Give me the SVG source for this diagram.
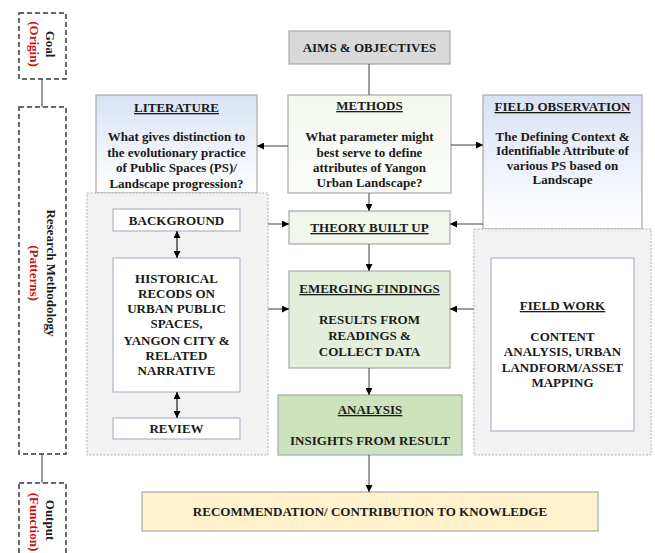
<svg xmlns="http://www.w3.org/2000/svg" width="655" height="553" viewBox="0 0 655 553">
<style>
text{font-family:"Liberation Serif","Times New Roman",serif;font-weight:bold;font-size:13px;fill:#1a1a1a;text-anchor:middle}
.u{text-decoration:underline}
.red{fill:#cc1111}
.side{fill:none;stroke:#3a3a3a;stroke-width:1.5;stroke-dasharray:5,3}
.panel{fill:#f2f2f2;stroke:#b0b0b0;stroke-width:1;stroke-dasharray:2,1.5}
.box{stroke:#a9a9a9;stroke-width:1.2}
.wbox{fill:#fff;stroke:#a0a8c0;stroke-width:1}
.ln{fill:none;stroke:#404040;stroke-width:1}
.arr{fill:none;stroke:#404040;stroke-width:1;marker-end:url(#ah)}
.dbl{fill:none;stroke:#202020;stroke-width:1.2;marker-end:url(#ah);marker-start:url(#ah)}
</style>
<defs>
<marker id="ah" viewBox="0 0 8 8" refX="8" refY="4" markerWidth="7" markerHeight="7" markerUnits="userSpaceOnUse" orient="auto-start-reverse">
<path d="M0,0 L8,4 L0,8 z" fill="#000"/>
</marker>
<linearGradient id="blue" x1="0" y1="0" x2="0" y2="1">
<stop offset="0" stop-color="#d9e2f5"/>
<stop offset="1" stop-color="#ffffff"/>
</linearGradient>
<linearGradient id="grn" x1="0" y1="0" x2="0" y2="1">
<stop offset="0" stop-color="#f3f8ef"/>
<stop offset="1" stop-color="#fbfdf9"/>
</linearGradient>
</defs>
<rect width="655" height="553" fill="#fff"/>

<g id="side-labels">
<g id="goal">
<rect class="side" x="19" y="13" width="47" height="66"/>
<text transform="translate(46,44) rotate(90)">Goal</text>
<text class="red" transform="translate(29.5,44) rotate(90)">(Origin)</text>
</g>
<g id="research">
<rect class="side" x="19" y="107" width="47" height="347"/>
<text transform="translate(46.5,273) rotate(90)">Research Methodology</text>
<text class="red" transform="translate(29.5,273) rotate(90)">(Patterns)</text>
</g>
<g id="output">
<rect class="side" x="19" y="483" width="47" height="80"/>
<text transform="translate(46,520) rotate(90)">Output</text>
<text class="red" transform="translate(29.5,522) rotate(90)">(Function)</text>
</g>
</g>

<g id="literature">
<rect class="box" x="96" y="95" width="161" height="98" fill="url(#blue)"/>
<text class="u" x="176.5" y="112">LITERATURE</text>
<text x="176.5" y="141">What gives distinction to</text>
<text x="176.5" y="157">the evolutionary practice</text>
<text x="176.5" y="172">of Public Spaces (PS)/</text>
<text x="176.5" y="188">Landscape progression?</text>
</g>

<g id="field-observation">
<rect class="box" x="483" y="95" width="159" height="134" fill="url(#blue)"/>
<text class="u" x="562.5" y="111">FIELD OBSERVATION</text>
<text x="562.5" y="141">The Defining Context &amp;</text>
<text x="562.5" y="155">Identifiable Attribute of</text>
<text x="562.5" y="170">various PS based on</text>
<text x="562.5" y="184">Landscape</text>
</g>

<g id="left-panel">
<rect class="panel" x="87" y="193" width="181" height="262"/>
</g>
<g id="background">
<rect class="wbox" x="113" y="209" width="127" height="22"/>
<text x="176.5" y="225">BACKGROUND</text>
</g>
<g id="historical">
<rect class="wbox" x="113" y="258" width="127" height="134"/>
<text x="176.5" y="283">HISTORICAL</text>
<text x="176.5" y="298">RECODS ON</text>
<text x="176.5" y="313">URBAN PUBLIC</text>
<text x="176.5" y="328">SPACES,</text>
<text x="176.5" y="345">YANGON CITY &amp;</text>
<text x="176.5" y="360">RELATED</text>
<text x="176.5" y="375">NARRATIVE</text>
</g>
<g id="review">
<rect class="wbox" x="113" y="418" width="127" height="21"/>
<text x="176.5" y="433">REVIEW</text>
</g>

<g id="right-panel">
<rect class="panel" x="474" y="229" width="177" height="226"/>
</g>
<g id="field-work">
<rect class="wbox" x="491" y="258" width="143" height="173"/>
<text class="u" x="562.5" y="310">FIELD WORK</text>
<text x="562.5" y="341">CONTENT</text>
<text x="562.5" y="356">ANALYSIS, URBAN</text>
<text x="562.5" y="372">LANDFORM/ASSET</text>
<text x="562.5" y="387">MAPPING</text>
</g>

<g id="aims">
<rect class="box" x="289" y="31" width="161" height="33" fill="#d9d9d9"/>
<text x="369.5" y="52">AIMS &amp; OBJECTIVES</text>
</g>

<g id="methods">
<rect class="box" x="288" y="95" width="163" height="98" fill="url(#grn)"/>
<text class="u" x="369.5" y="110">METHODS</text>
<text x="369.5" y="141">What parameter might</text>
<text x="369.5" y="157">best serve to define</text>
<text x="369.5" y="172">attributes of Yangon</text>
<text x="369.5" y="187">Urban Landscape?</text>
</g>

<g id="theory">
<rect class="box" x="289" y="211" width="161" height="33" fill="#f0f6ec"/>
<text class="u" x="369.5" y="232">THEORY BUILT UP</text>
</g>

<g id="emerging">
<rect class="box" x="289" y="271" width="161" height="97" fill="#e3efda"/>
<text class="u" x="369.5" y="293">EMERGING FINDINGS</text>
<text x="369.5" y="324">RESULTS FROM</text>
<text x="369.5" y="340">READINGS &amp;</text>
<text x="369.5" y="356">COLLECT DATA</text>
</g>

<g id="analysis">
<rect class="box" x="278" y="395" width="184" height="60" fill="#cde3be"/>
<text class="u" x="370" y="414">ANALYSIS</text>
<text x="370" y="445">INSIGHTS FROM RESULT</text>
</g>

<g id="recommendation">
<rect class="box" x="142" y="492" width="456" height="39" fill="#fff2cc"/>
<text x="370" y="516">RECOMMENDATION/ CONTRIBUTION TO KNOWLEDGE</text>
</g>

<g id="connectors">
<line class="ln" x1="42" y1="79" x2="42" y2="107" stroke-width="1.5"/>
<line class="ln" x1="42" y1="454" x2="42" y2="483" stroke-width="1.5"/>
<line class="ln" x1="369" y1="64" x2="369" y2="95"/>
<line class="arr" x1="369" y1="193" x2="369" y2="211"/>
<line class="arr" x1="288" y1="146" x2="257" y2="146"/>
<line class="arr" x1="451" y1="145" x2="483" y2="145"/>
<line class="arr" x1="268" y1="224" x2="289" y2="224"/>
<line class="arr" x1="483" y1="224" x2="450" y2="224"/>
<line class="arr" x1="369" y1="244" x2="369" y2="271"/>
<line class="arr" x1="268" y1="309" x2="289" y2="309"/>
<line class="arr" x1="474" y1="309" x2="450" y2="309"/>
<line class="arr" x1="369" y1="368" x2="369" y2="395"/>
<line class="arr" x1="369" y1="455" x2="369" y2="492"/>
<line class="dbl" x1="177" y1="231" x2="177" y2="258"/>
<line class="dbl" x1="177" y1="392" x2="177" y2="418"/>
</g>
</svg>
